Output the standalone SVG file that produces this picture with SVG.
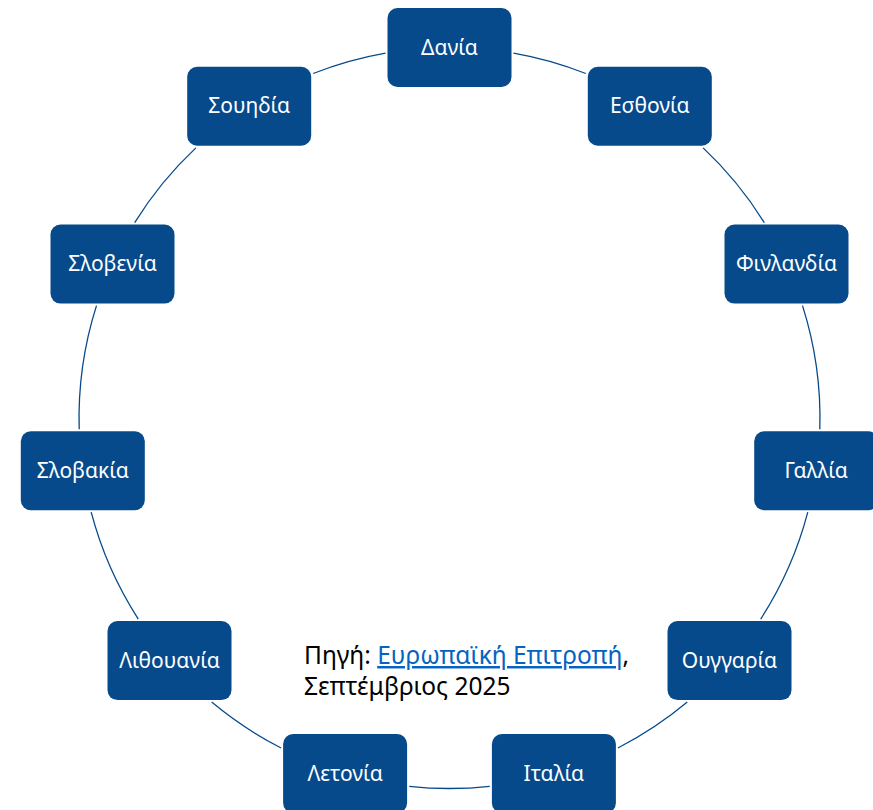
<svg xmlns="http://www.w3.org/2000/svg" width="873" height="810" viewBox="0 0 873 810">
<style>
.box{fill:#074A8B;}
.lbl{fill:#ffffff;font-family:"Noto Sans","Open Sans",sans-serif;font-size:21px;text-anchor:middle;}
.arc{fill:none;stroke:#074A8B;stroke-width:1.3;}
.src{font-family:"Noto Sans","Open Sans",sans-serif;font-size:24.5px;fill:#000000;}
.link{fill:#0563C1;text-decoration:underline;}
</style>
<rect width="873" height="810" fill="#ffffff"/>
<g id="connectors">
<path class="arc" d="M513.5 53.1 A370.5 370.5 0 0 1 585.8 73.5"/>
<path class="arc" d="M703.1 147.9 A370.5 370.5 0 0 1 764.3 222.6"/>
<path class="arc" d="M802.5 305.6 A370.5 370.5 0 0 1 819.8 429.2"/>
<path class="arc" d="M807.8 512.2 A370.5 370.5 0 0 1 760.7 619.1"/>
<path class="arc" d="M687.3 702.1 A370.5 370.5 0 0 1 617.9 748.0"/>
<path class="arc" d="M489.8 786.3 A370.5 370.5 0 0 1 409.2 786.3"/>
<path class="arc" d="M281.1 748.0 A370.5 370.5 0 0 1 211.7 702.1"/>
<path class="arc" d="M138.3 619.1 A370.5 370.5 0 0 1 91.2 512.2"/>
<path class="arc" d="M79.2 429.2 A370.5 370.5 0 0 1 96.5 305.6"/>
<path class="arc" d="M134.7 222.6 A370.5 370.5 0 0 1 195.9 147.9"/>
<path class="arc" d="M313.2 73.5 A370.5 370.5 0 0 1 385.5 53.1"/>
</g>
<g id="n0"><rect class="box" x="387.5" y="8" width="124" height="79" rx="10"/><text class="lbl" x="449.5" y="54.5">Δανία</text></g>
<g id="n1"><rect class="box" x="587.8" y="66.8" width="124" height="79" rx="10"/><text class="lbl" x="649.8" y="113.3">Εσθονία</text></g>
<g id="n2"><rect class="box" x="724.5" y="224.6" width="124" height="79" rx="10"/><text class="lbl" x="786.5" y="271.1">Φινλανδία</text></g>
<g id="n3"><rect class="box" x="754.2" y="431.2" width="124" height="79" rx="10"/><text class="lbl" x="816.2" y="477.7">Γαλλία</text></g>
<g id="n4"><rect class="box" x="667.5" y="621.1" width="124" height="79" rx="10"/><text class="lbl" x="729.5" y="667.6">Ουγγαρία</text></g>
<g id="n5"><rect class="box" x="491.9" y="734" width="124" height="79" rx="10"/><text class="lbl" x="553.9" y="780.5">Ιταλία</text></g>
<g id="n6"><rect class="box" x="283.1" y="734" width="124" height="79" rx="10"/><text class="lbl" x="345.1" y="780.5">Λετονία</text></g>
<g id="n7"><rect class="box" x="107.5" y="621.1" width="124" height="79" rx="10"/><text class="lbl" x="169.5" y="667.6">Λιθουανία</text></g>
<g id="n8"><rect class="box" x="20.8" y="431.2" width="124" height="79" rx="10"/><text class="lbl" x="82.8" y="477.7">Σλοβακία</text></g>
<g id="n9"><rect class="box" x="50.5" y="224.6" width="124" height="79" rx="10"/><text class="lbl" x="112.5" y="271.1">Σλοβενία</text></g>
<g id="n10"><rect class="box" x="187.2" y="66.8" width="124" height="79" rx="10"/><text class="lbl" x="249.2" y="113.3">Σουηδία</text></g>
<g id="source">
<text class="src" x="304" y="664">Πηγή: <tspan class="link">Ευρωπαϊκή Επιτροπή</tspan>,</text>
<text class="src" x="304" y="695">Σεπτέμβριος 2025</text>
</g>
</svg>
